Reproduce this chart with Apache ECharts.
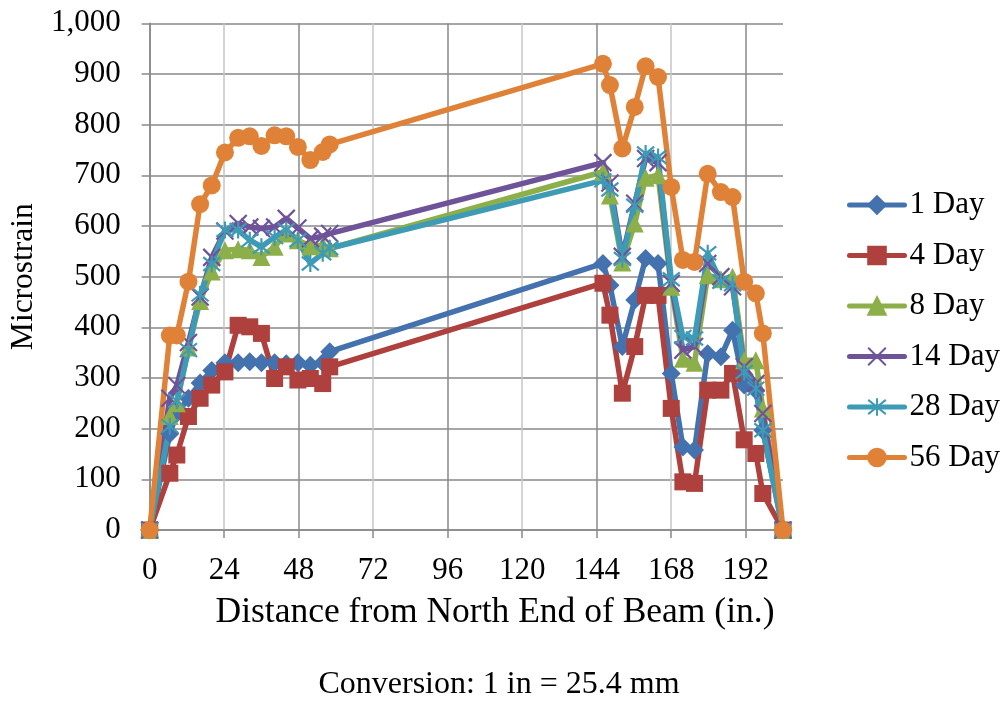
<!DOCTYPE html>
<html>
<head>
<meta charset="utf-8">
<script src="https://cdn.jsdelivr.net/npm/echarts@6/dist/echarts.min.js"></script>
<style>
html,body{margin:0;padding:0;background:#fff;}
#chart{width:1005px;height:709px;}
</style>
</head>
<body>
<div id="chart"></div>
<script>
// Sensor locations (in.)
const xPositions = [0, 6.5, 8.75, 12.5, 16.25, 20, 24.25, 28.5, 32.25, 36, 40.25, 44, 47.75, 51.75, 55.75, 58,
  146, 148.25, 152.25, 156.25, 159.75, 163.75, 168, 171.75, 175.5, 179.75, 184, 187.75, 191.5, 195.25, 197.5, 204];

const seriesNames = ['1 Day', '4 Day', '8 Day', '14 Day', '28 Day', '56 Day'];

const day1  = [0,190,230,260,290,315,330,330,332,330,330,328,330,325,330,352, 526,483,362,454,536,526,309,164,158,348,342,394,286,276,197,0];
const day4  = [0,112,148,224,260,286,312,404,401,388,299,322,296,299,289,322, 487,424,270,362,463,463,240,95,92,276,276,309,178,151,72,0];
const day8  = [0,225,250,360,452,510,552,554,552,539,559,585,572,560,562,556, 707,660,528,605,695,700,480,338,330,503,495,500,335,335,240,0];
const day14 = [0,260,285,370,460,538,590,605,598,595,598,615,596,575,580,585, 725,685,540,645,733,725,487,355,362,526,500,480,322,289,230,0];
const day28 = [0,205,255,355,465,525,592,592,572,559,578,592,572,526,546,556, 690,672,535,640,743,736,495,381,378,546,490,485,312,279,197,0];
const day56 = [0,384,384,490,643,680,745,774,777,758,779,777,756,730,746,761, 920,878,753,835,915,894,677,533,529,703,667,657,490,467,388,0];

const xTickLabels = [0, 24, 48, 72, 96, 120, 144, 168, 192];

const allValues = [day1, day4, day8, day14, day28, day56];
const colors = ['#4472ae', '#ae403d', '#8caf4a', '#6f5399', '#3e9bb6', '#df8237'];
const symbols = [
  'diamond', 'rect', 'triangle',
  'path://M0,0L17,17M17,0L0,17',
  'path://M0,0L17,17M17,0L0,17M8.5,-2L8.5,19',
  'circle'
];
const symbolSizes = [19, 17, 18, 17, 17, 18];

const FONT = "'Liberation Serif','Times New Roman',serif";

const chart = echarts.init(document.getElementById('chart'), null, {renderer: 'canvas'});

const series = seriesNames.map((name, i) => {
  const stroked = i === 3 || i === 4;
  return {
    name: name,
    type: 'line',
    data: xPositions.map((x, k) => [x, allValues[i][k]]),
    symbol: symbols[i],
    symbolSize: symbolSizes[i],
    showAllSymbol: true,
    lineStyle: {color: colors[i], width: 5.5, cap: 'round', join: 'round'},
    itemStyle: stroked
      ? {color: 'rgba(0,0,0,0)', borderColor: colors[i], borderWidth: 2.2}
      : {color: colors[i], borderColor: colors[i], borderWidth: 0},
    emphasis: {disabled: true},
    animation: false
  };
});

const option = {
  backgroundColor: '#ffffff',
  animation: false,
  textStyle: {fontFamily: FONT},
  grid: {left: 147.7, right: 222, top: 23.3, bottom: 179, containLabel: false},
  legend: {
    orient: 'vertical',
    left: 842,
    top: 184,
    itemWidth: 55,
    itemHeight: 22,
    itemGap: 18.5,
    data: seriesNames,
    lineStyle: {width: 5},
    itemStyle: {borderWidth: 2},
    textStyle: {fontFamily: FONT, fontSize: 31, color: '#000', lineHeight: 32},
    selectedMode: false
  },
  xAxis: {
    type: 'value',
    min: 0,
    max: 204,
    interval: 12,
    axisLine: {show: true, onZero: false, lineStyle: {color: '#898989', width: 1.5}},
    axisTick: {show: true, length: 8, lineStyle: {color: '#898989', width: 1.5}, customValues: xTickLabels},
    axisLabel: {
      fontFamily: FONT, fontSize: 31, color: '#000', margin: 25,
      customValues: xTickLabels,
      formatter: v => (v % 24 === 0 && v <= 192) ? String(v) : ''
    },
    splitLine: {show: true, lineStyle: {color: ['#898989', '#c6c6c6'], width: 1.5}}
  },
  yAxis: {
    type: 'value',
    min: 0,
    max: 1000,
    interval: 100,
    name: 'Microstrain',
    nameLocation: 'middle',
    nameGap: 104,
    nameRotate: 90,
    nameTextStyle: {fontFamily: FONT, fontSize: 31.5, color: '#000'},
    axisLine: {show: true, lineStyle: {color: '#898989', width: 1.5}},
    axisTick: {show: true, length: 8, lineStyle: {color: '#898989', width: 1.5}},
    axisLabel: {
      fontFamily: FONT, fontSize: 31, color: '#000', margin: 29,
      formatter: v => v.toLocaleString('en-US')
    },
    splitLine: {show: true, lineStyle: {color: '#898989', width: 1.5}}
  },
  graphic: [{
    type: 'text',
    x: 495, y: 613,
    style: {
      text: 'Distance from North End of Beam (in.)',
      textAlign: 'center',
      textVerticalAlign: 'middle',
      font: "35.5px 'Liberation Serif','Times New Roman',serif",
      fill: '#000'
    }
  }, {
    type: 'text',
    x: 499, y: 685,
    style: {
      text: 'Conversion: 1 in = 25.4 mm',
      textAlign: 'center',
      textVerticalAlign: 'middle',
      font: "32px 'Liberation Serif','Times New Roman',serif",
      fill: '#000'
    }
  }],
  series: series
};

chart.setOption(option);
</script>
</body>
</html>
